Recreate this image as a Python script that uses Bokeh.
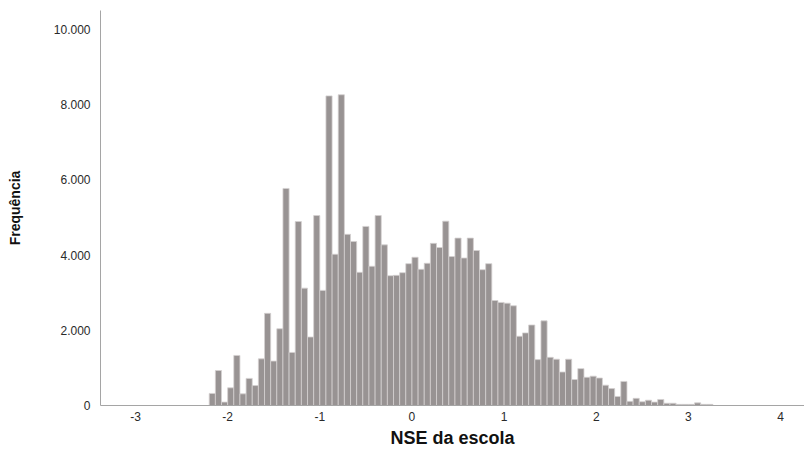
from bokeh.plotting import figure
from bokeh.models import FixedTicker, Range1d, ColumnDataSource
from bokeh.embed import file_html
from bokeh.resources import INLINE

# ---- data ----
bin_start = -2.2
bin_width = 1 / 15
counts = [
    320, 930, 90, 470, 1330, 310, 720, 530, 1240, 2450,
    1180, 2040, 5770, 1410, 4890, 3120, 1820, 5050, 3060, 8230,
    4020, 8260, 4550, 4360, 3540, 4760, 3700, 5050, 4270, 3450,
    3460, 3530, 3770, 3940, 3620, 3780, 4310, 4200, 4900, 3960,
    4450, 3920, 4450, 4120, 3610, 3770, 2790, 2740, 2720, 2650,
    1840, 1930, 2140, 1220, 2250, 1280, 1230, 890, 1230, 690,
    980, 750, 780, 730, 540, 450, 240, 640, 110, 190,
    100, 140, 90, 160, 60, 60, 30, 30, 30, 70,
    30, 30,
]
x_ticks = [-3, -2, -1, 0, 1, 2, 3, 4]
x_tick_labels = ["-3", "-2", "-1", "0", "1", "2", "3", "4"]
y_ticks = [0, 2000, 4000, 6000, 8000, 10000]
y_tick_labels = ["0", "2.000", "4.000", "6.000", "8.000", "10.000"]
x_title = "NSE da escola"
y_title = "Frequência"

centers = [bin_start + (i + 0.5) * bin_width for i in range(len(counts))]
src = ColumnDataSource(dict(x=centers, top=counts))

p = figure(
    width=804, height=450,
    output_backend="svg", toolbar_location=None,
    x_range=Range1d(-3.38, 4.26), y_range=Range1d(0, 10500),
    min_border_left=100, min_border_right=0, min_border_top=10, min_border_bottom=0,
)
p.vbar(x="x", top="top", bottom=0, width=bin_width, source=src,
       fill_color="#989393", line_color="#d4d1d1", line_width=0.8)

p.grid.visible = False
p.outline_line_color = None
p.background_fill_color = "white"
p.border_fill_color = "white"

for ax in (p.xaxis[0], p.yaxis[0]):
    ax.axis_line_color = "#a5a5a5"
    ax.axis_line_width = 1
    ax.major_tick_line_color = None
    ax.minor_tick_line_color = None
    ax.major_tick_out = 0
    ax.major_tick_in = 0
    ax.minor_tick_out = 0
    ax.minor_tick_in = 0
    ax.major_label_text_font = "Liberation Sans"
    ax.major_label_text_font_size = "12px"
    ax.major_label_text_color = "#2a2a2a"
    ax.axis_label_text_font = "Liberation Sans"
    ax.axis_label_text_font_style = "bold"
    ax.axis_label_text_color = "#111111"

p.xaxis.ticker = FixedTicker(ticks=x_ticks)
p.xaxis.major_label_overrides = {t: l for t, l in zip(x_ticks, x_tick_labels)}
p.xaxis.axis_label = x_title
p.xaxis.axis_label_text_font_size = "18px"
p.xaxis.major_label_standoff = 6
p.xaxis.axis_label_standoff = 4

p.yaxis.ticker = FixedTicker(ticks=y_ticks)
p.yaxis.major_label_overrides = {t: l for t, l in zip(y_ticks, y_tick_labels)}
p.yaxis.axis_label = y_title
p.yaxis.axis_label_text_font_size = "14px"
p.yaxis.major_label_standoff = 10
p.yaxis.axis_label_standoff = 28

open("out.html", "w").write(file_html(p, INLINE))
